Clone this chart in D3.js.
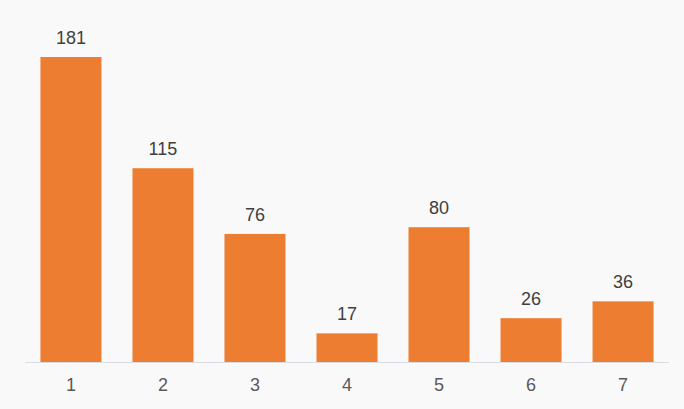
<!DOCTYPE html>
<html><head><meta charset="utf-8">
<script src="https://cdn.jsdelivr.net/npm/d3@7"></script>
<style>html,body{margin:0;padding:0;background:#f9f9f9;}svg{display:block;}</style>
</head><body>
<script>
const categories = ["1","2","3","4","5","6","7"];
const values = [181,115,76,17,80,26,36];

const W = 684, H = 409;
const svg = d3.select("body").append("svg").attr("width", W).attr("height", H);
svg.append("rect").attr("width", W).attr("height", H).attr("fill", "#f9f9f9");

const x = d3.scaleBand().domain(categories).range([25, 669]).paddingInner(0.337).paddingOuter(0.168);
const y = d3.scaleLinear().domain([0, 181]).range([362, 57]);

svg.append("line").attr("x1", 25).attr("x2", 669).attr("y1", y(0) + 0.5).attr("y2", y(0) + 0.5)
  .attr("stroke", "#d9dde3").attr("stroke-width", 1);

svg.selectAll("rect.bar").data(values).enter().append("rect").attr("class", "bar")
  .attr("x", (d, i) => x(categories[i])).attr("width", x.bandwidth())
  .attr("y", d => y(d)).attr("height", d => y(0) - y(d)).attr("fill", "#ED7D31");

svg.selectAll("text.val").data(values).enter().append("text").attr("class", "val")
  .attr("x", (d, i) => x(categories[i]) + x.bandwidth() / 2).attr("y", d => y(d) - 13)
  .attr("text-anchor", "middle").attr("font-family", "Liberation Sans, Arial, sans-serif")
  .attr("font-size", 18).attr("fill", "#404040").text(d => d);

const axis = d3.axisBottom(x).tickSize(0).tickPadding(0);
const g = svg.append("g").attr("transform", `translate(0,${y(0)})`).call(axis);
g.select(".domain").remove();
g.selectAll("text").attr("dy", 0).attr("y", 29).attr("font-family", "Liberation Sans, Arial, sans-serif")
  .attr("font-size", 18).attr("fill", "#595959");
</script>
</body></html>
